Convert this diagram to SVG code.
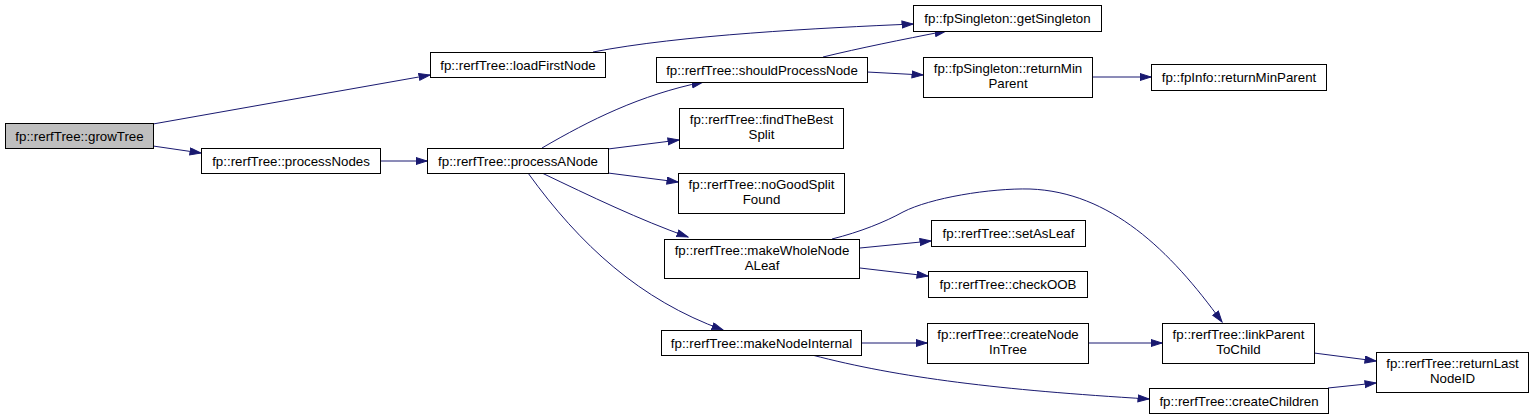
<svg xmlns="http://www.w3.org/2000/svg" width="1533" height="420" viewBox="0 0 1533 420">
<style>
.n rect{fill:#fff;stroke:#000;stroke-width:1}
.n.h rect{fill:#bfbfbf}
.n text{font-family:"Liberation Sans",Arial,sans-serif;font-size:13.3px;fill:#000;text-anchor:middle}
.e path{fill:none;stroke:#191970;stroke-width:1;marker-end:url(#a)}
</style>
<defs>
<marker id="a" markerUnits="userSpaceOnUse" markerWidth="13" markerHeight="10" refX="11.5" refY="4" orient="auto">
<path d="M0.5,0.5 L11.5,4 L0.5,7.5 z" fill="#191970" stroke="#191970" stroke-width="1"/>
</marker>
</defs>
<rect width="1533" height="420" fill="#fff"/>
<g id="edges" class="e">
<path d="M153,124 L430,75"/>
<path d="M153,146 L201,153"/>
<path d="M380,161 L427,161"/>
<path d="M593,52 C680,35 820,28 913,24"/>
<path d="M542,148 C590,120 640,95 703,82"/>
<path d="M823,57 C860,48 900,40 946,31"/>
<path d="M867,72 L923,75"/>
<path d="M1092,77 L1151,77"/>
<path d="M608,149 L679,140"/>
<path d="M608,173 L678,182"/>
<path d="M542,173 C590,196 640,220 688,237"/>
<path d="M528,173 C580,245 640,300 723,330"/>
<path d="M860,248 L931,241"/>
<path d="M860,268 L928,276"/>
<path d="M832,239 C860,232 885,222 903,212 C930,198 990,188 1030,189 C1110,192 1170,250 1222,322"/>
<path d="M861,343 L927,343"/>
<path d="M812,355 C900,378 1000,390 1149,399"/>
<path d="M1088,343 L1162,343"/>
<path d="M1314,353 L1376,361"/>
<path d="M1328,388 L1376,383"/>
</g>
<g id="growTree" class="n h"><rect x="5.5" y="123.5" width="148" height="25"/><text x="79.5" y="140.5">fp::rerfTree::growTree</text></g>
<g id="processNodes" class="n"><rect x="201.5" y="148.5" width="179" height="25"/><text x="291" y="165.5">fp::rerfTree::processNodes</text></g>
<g id="loadFirstNode" class="n"><rect x="430.5" y="52.5" width="175" height="25"/><text x="518" y="69.5">fp::rerfTree::loadFirstNode</text></g>
<g id="processANode" class="n"><rect x="427.5" y="148.5" width="181" height="25"/><text x="518" y="165.5">fp::rerfTree::processANode</text></g>
<g id="shouldProcessNode" class="n"><rect x="656.5" y="57.5" width="211" height="25"/><text x="762" y="74.5">fp::rerfTree::shouldProcessNode</text></g>
<g id="findTheBestSplit" class="n"><rect x="679.5" y="108.5" width="164" height="40"/><text x="761.5" y="123.5">fp::rerfTree::findTheBest</text><text x="761.5" y="138.5">Split</text></g>
<g id="noGoodSplitFound" class="n"><rect x="678.5" y="173.5" width="166" height="40"/><text x="761.5" y="188.5">fp::rerfTree::noGoodSplit</text><text x="761.5" y="203.5">Found</text></g>
<g id="getSingleton" class="n"><rect x="913.5" y="5.5" width="188" height="26"/><text x="1007.5" y="22.5">fp::fpSingleton::getSingleton</text></g>
<g id="singletonReturnMinParent" class="n"><rect x="923.5" y="57.5" width="169" height="40"/><text x="1008" y="72.5">fp::fpSingleton::returnMin</text><text x="1008" y="87.5">Parent</text></g>
<g id="fpInfoReturnMinParent" class="n"><rect x="1151.5" y="64.5" width="175" height="26"/><text x="1239" y="81.5">fp::fpInfo::returnMinParent</text></g>
<g id="makeWholeNodeALeaf" class="n"><rect x="664.5" y="239.5" width="195" height="39"/><text x="762" y="254.5">fp::rerfTree::makeWholeNode</text><text x="762" y="269.5">ALeaf</text></g>
<g id="makeNodeInternal" class="n"><rect x="661.5" y="330.5" width="200" height="25"/><text x="761.5" y="347.5">fp::rerfTree::makeNodeInternal</text></g>
<g id="setAsLeaf" class="n"><rect x="931.5" y="220.5" width="154" height="26"/><text x="1008.5" y="237.5">fp::rerfTree::setAsLeaf</text></g>
<g id="checkOOB" class="n"><rect x="928.5" y="271.5" width="159" height="26"/><text x="1008" y="288.5">fp::rerfTree::checkOOB</text></g>
<g id="createNodeInTree" class="n"><rect x="927.5" y="323.5" width="161" height="40"/><text x="1008" y="338.5">fp::rerfTree::createNode</text><text x="1008" y="353.5">InTree</text></g>
<g id="linkParentToChild" class="n"><rect x="1162.5" y="323.5" width="152" height="40"/><text x="1238.5" y="338.5">fp::rerfTree::linkParent</text><text x="1238.5" y="353.5">ToChild</text></g>
<g id="createChildren" class="n"><rect x="1149.5" y="388.5" width="179" height="25"/><text x="1239" y="405.5">fp::rerfTree::createChildren</text></g>
<g id="returnLastNodeID" class="n"><rect x="1376.5" y="352.5" width="152" height="40"/><text x="1452.5" y="367.5">fp::rerfTree::returnLast</text><text x="1452.5" y="382.5">NodeID</text></g>
</svg>
